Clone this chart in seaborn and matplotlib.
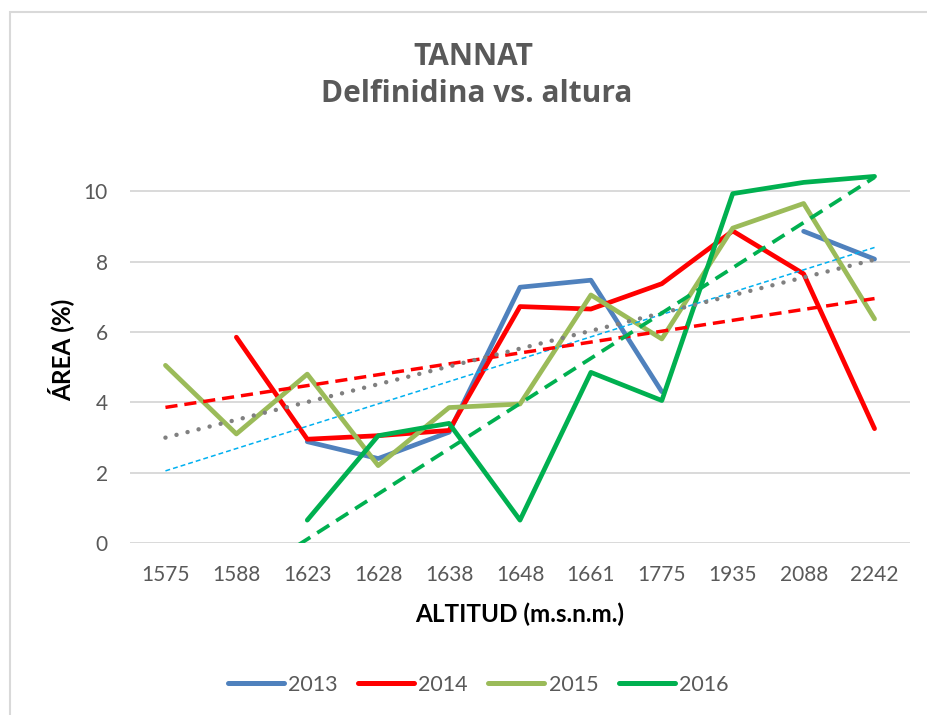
import numpy as np
import pandas as pd
import matplotlib
matplotlib.use("Agg")
import matplotlib.pyplot as plt
from matplotlib.lines import Line2D
from matplotlib.patches import Rectangle
import seaborn as sns

# ---------------- data ----------------
altitudes = ["1575", "1588", "1623", "1628", "1638", "1648", "1661", "1775", "1935", "2088", "2242"]
nan = np.nan
area_2013 = [nan, nan, 2.88, 2.40, 3.15, 7.27, 7.47, 4.30, nan, 8.86, 8.07]
area_2014 = [nan, 5.85, 2.95, 3.05, 3.20, 6.72, 6.65, 7.37, 8.87, 7.65, 3.25]
area_2015 = [5.05, 3.10, 4.80, 2.20, 3.85, 3.95, 7.05, 5.80, 8.95, 9.65, 6.37]
area_2016 = [nan, nan, 0.65, 3.05, 3.40, 0.65, 4.85, 4.05, 9.93, 10.25, 10.42]
trend_2013_ends = [2.05, 8.40]   # light-blue thin trend line (start at 1575, end at 2242)

years = ["2013", "2014", "2015", "2016"]
series = [area_2013, area_2014, area_2015, area_2016]
colors = ["#4F81BD", "#FF0000", "#9BBB59", "#00B050"]

title_lines = ["TANNAT", "Delfinidina vs. altura"]
xlabel = "ALTITUD (m.s.n.m.)"
ylabel = "ÁREA (%)"

# ---------------- style ----------------
sns.set_theme(style="white")
plt.rcParams["font.family"] = ["Lato", "DejaVu Sans"]

W, H = 928, 715
fig = plt.figure(figsize=(W / 100, H / 100), dpi=100)
fig.patch.set_facecolor("white")

ax_l, ax_r, ax_t, ax_b = 130, 910, 156, 543
ax = fig.add_axes([ax_l / W, 1 - ax_b / H, (ax_r - ax_l) / W, (ax_b - ax_t) / H])

idx = np.arange(len(altitudes))

# data lines (split into contiguous segments so gaps stay open)
for yr, vals, col in zip(years, series, colors):
    v = np.asarray(vals, dtype=float)
    seg = np.cumsum(np.isnan(v))
    df = pd.DataFrame({"idx": idx, "val": v, "seg": seg}).dropna()
    sns.lineplot(data=df, x="idx", y="val", units="seg", estimator=None, sort=False,
                 color=col, lw=3.4, ax=ax, solid_capstyle="round", solid_joinstyle="round",
                 zorder=3)

# trend lines
def fit(vals):
    v = np.asarray(vals, dtype=float)
    m = ~np.isnan(v)
    a, b = np.polyfit(idx[m] + 1, v[m], 1)
    return a * (idx + 1) + b

tr_df = pd.DataFrame({
    "idx": np.concatenate([[idx[0], idx[-1]], idx, idx, idx]),
    "val": np.concatenate([trend_2013_ends, fit(area_2014), fit(area_2015), fit(area_2016)]),
    "kind": ["t2013"] * 2 + ["t2014"] * len(idx) + ["t2015"] * len(idx) + ["t2016"] * len(idx),
})
sns.lineplot(data=tr_df[tr_df.kind == "t2013"], x="idx", y="val", estimator=None, ax=ax,
             color="#00B0F0", lw=1.1, zorder=4)
ax.lines[-1].set_dashes([3.2, 2.0])
sns.lineplot(data=tr_df[tr_df.kind == "t2014"], x="idx", y="val", estimator=None, ax=ax,
             color="#FF0000", lw=2.5, zorder=4)
ax.lines[-1].set_dashes([3.5, 2.0])
sns.lineplot(data=tr_df[tr_df.kind == "t2015"], x="idx", y="val", estimator=None, ax=ax,
             color="#808080", lw=3.2, zorder=4)
ax.lines[-1].set_dashes([0.01, 2.55])
ax.lines[-1].set_dash_capstyle("round")
sns.lineplot(data=tr_df[tr_df.kind == "t2016"], x="idx", y="val", estimator=None, ax=ax,
             color="#00B050", lw=2.7, zorder=4)
ax.lines[-1].set_dashes([3.8, 2.2])

# axes
ax.set_xlim(-0.5, len(altitudes) - 0.5)
ax.set_ylim(0, 11)
ax.set_yticks([0, 2, 4, 6, 8, 10])
ax.set_xticks(idx)
ax.set_xticklabels(altitudes)
ax.yaxis.grid(True, color="#D9D9D9", lw=1.4)
ax.xaxis.grid(False)
ax.set_axisbelow(True)
for s in ax.spines.values():
    s.set_visible(False)
ax.tick_params(axis="both", length=0, labelsize=15, labelcolor="#595959")
ax.tick_params(axis="x", pad=16)
ax.tick_params(axis="y", pad=16)
ax.set_xlabel("")
ax.set_ylabel("")

# texts
title_font = ["Open Sans", "DejaVu Sans"]
fig.text(473 / W, 1 - 65 / H, title_lines[0], ha="center", va="baseline", family=title_font,
         fontsize=21.5, fontweight="bold", color="#595959")
fig.text(477 / W, 1 - 102 / H, title_lines[1], ha="center", va="baseline", family=title_font,
         fontsize=21.5, fontweight="bold", color="#595959")
fig.text(520 / W, 1 - 622 / H, xlabel, ha="center", va="baseline",
         fontsize=17.5, fontweight="bold", color="black")
fig.text(61 / W, 1 - 350 / H, ylabel, ha="center", va="center", rotation=90,
         fontsize=17.5, fontweight="bold", color="black")

# legend
handles = [Line2D([0], [0], color=c, lw=3.6, solid_capstyle="round") for c in colors]
fig.legend(handles, years, loc="center", bbox_to_anchor=(478 / W, 1 - 685 / H), ncol=4,
           frameon=False, fontsize=15.5, handlelength=2.6, handletextpad=0.2,
           columnspacing=0.95, labelcolor="#595959")

# chart border
fig.add_artist(Rectangle((10 / W, -0.05), 1.1, 1 - 12 / H + 0.05, transform=fig.transFigure,
                         fill=False, ec="#D9D9D9", lw=1.5))

fig.savefig("out.png", dpi=100, facecolor="white")
